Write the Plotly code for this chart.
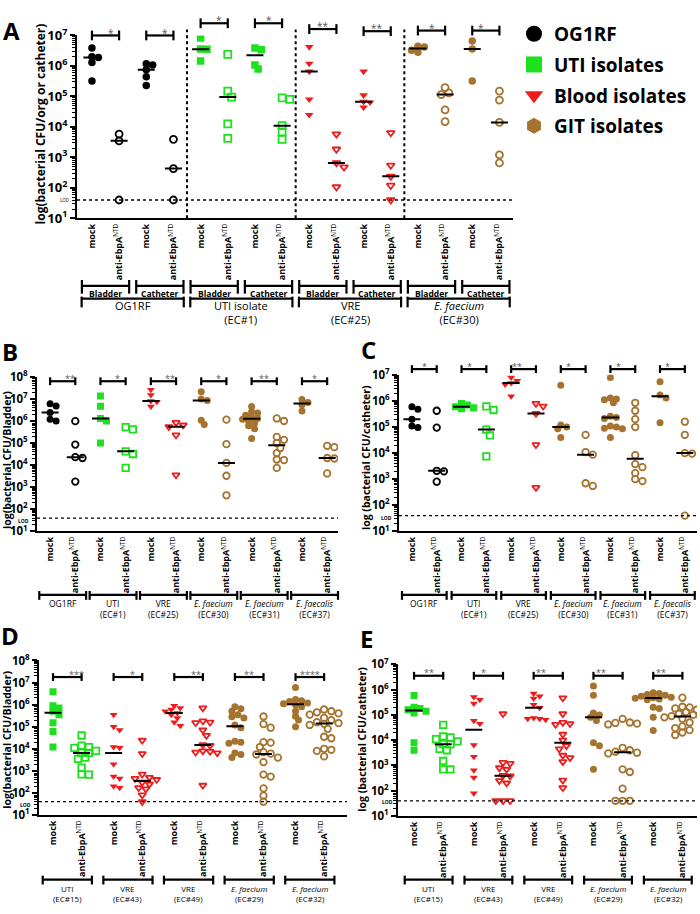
import numpy as np
import plotly.graph_objects as go

W, H = 700, 914
FONT = "Open Sans"
LOD = 40

# ------------------------------------------------------------------ DATA
# Panel A (CFU per organ or catheter); pairs = strain x site
A_groups = ["OG1RF", "UTI isolate<br>(EC#1)", "VRE<br>(EC#25)", "<i>E. faecium</i><br>(EC#30)"]
A_sites = ["Bladder", "Catheter", "Bladder", "Catheter", "Bladder", "Catheter", "Bladder", "Catheter"]
A_color = ["k", "k", "g", "g", "r", "r", "b", "b"]
A_mock = [
    [3.9e6, 2.0e6, 1.9e6, 1.3e6, 3.2e5],
    [1.17e6, 1.08e6, 7.5e5, 4.4e5, 2.3e5],
    [8.3e6, 3.6e6, 3.5e6, 1.45e6],
    [3.9e6, 3.4e6, 1.08e6, 7.9e5],
    [4.2e6, 1.2e6, 6.6e5, 8e4, 2.5e4],
    [6.6e5, 1.1e5, 6.7e4, 6.4e4, 4.4e4],
    [4.4e6, 4.2e6, 3.3e6, 2.8e6],
    [6.6e6, 3.6e6, 3.2e5],
]
A_anti = [
    [5.8e3, 3.5e3, 40],
    [3.9e3, 4.3e2, 40],
    [2.4e6, 1.5e5, 9.5e4, 1.26e4, 4.2e3],
    [9e4, 8e4, 1.1e4, 6.9e3, 3.9e3],
    [5.8e3, 1.85e3, 6.6e2, 4.8e2, 1.07e2],
    [6.4e3, 5.5e2, 2.4e2, 1.2e2, 40],
    [1.95e5, 1.3e5, 1.15e5, 3.6e4, 1.5e4],
    [1.5e5, 7.6e4, 1.4e4, 1.2e3, 6.6e2],
]
A_sig = ["*", "*", "*", "*", "**", "**", "*", "*"]
A_sig_level = [7.0, 7.0, 7.4, 7.4, 7.21, 7.14, 7.16, 7.16]

# Panel B (CFU per bladder)
B_groups = ["OG1RF", "UTI<br>(EC#1)", "VRE<br>(EC#25)", "<i>E. faecium</i><br>(EC#30)",
            "<i>E. faecium</i><br>(EC#31)", "<i>E. faecalis</i><br>(EC#37)"]
B_color = ["k", "g", "r", "b", "b", "b"]
B_mock = [
    [6.0e6, 4.8e6, 2.4e6, 1.2e6, 1.0e6],
    [1.35e7, 4.6e6, 1.3e6, 1.0e6, 1.0e5],
    [2.6e7, 1.5e7, 8e6, 7.5e6, 4.5e6],
    [2.1e7, 1.0e7, 8.5e6, 1.07e6, 7e5],
    [4.5e6, 2.6e6, 2.3e6, 1.8e6, 1.5e6, 1.3e6, 1.2e6, 1.0e6, 8e5, 6e5, 4.5e5, 1.6e5],
    [9.5e6, 6.8e6, 5.5e6, 2.8e6],
]
B_anti = [
    [9.8e5, 8.5e4, 2.3e4, 2.1e4, 1.8e3],
    [5.3e5, 4.2e5, 4.2e4, 3.2e4, 7.5e3],
    [8.5e5, 6.5e5, 5.5e5, 2.3e5, 3.6e3],
    [1.15e6, 8.9e4, 1.26e4, 3.3e3, 4.3e2],
    [1.3e6, 1.0e6, 1.9e5, 1.4e5, 1.0e5, 6e4, 3.5e4, 1.8e4, 1.7e4, 7.5e3],
    [7.5e4, 6.5e4, 2.1e4, 2.0e4, 4.2e3],
]
B_sig = ["**", "*", "**", "*", "**", "*"]

# Panel C (CFU per catheter)
C_groups = B_groups
C_color = B_color
C_mock = [
    [6e5, 4.8e5, 2.0e5, 1.1e5, 9.5e4],
    [8e5, 7e5, 6e5, 5.5e5, 5e5],
    [8e6, 6e6, 4.9e6, 4.3e6, 1.5e6],
    [4e6, 1.2e5, 1e5, 8.5e4, 4e4],
    [8e6, 1.3e6, 1.2e6, 1.1e6, 8.5e5, 2.6e5, 2.3e5, 2.1e5, 1.1e5, 1.0e5, 9e4, 8.5e4, 4e4],
    [5.5e6, 1.7e6, 1.3e6, 1.45e5],
]
C_anti = [
    [4.2e5, 9.5e4, 2.1e3, 2.0e3, 8e2],
    [6.2e5, 4.5e5, 8e4, 4.8e4, 7.5e3],
    [8e5, 6.3e5, 3.3e5, 2.1e4, 4.8e2],
    [5e4, 1.1e4, 8.7e3, 7e2, 5.5e2],
    [8.5e5, 4.2e5, 2e5, 1e5, 8.3e3, 3.8e3, 2.9e3, 1.7e3, 1.0e3, 8.5e2],
    [1.6e5, 5e4, 1e4, 9.5e3, 40],
]
C_sig = ["*", "*", "**", "*", "*", "*"]

# Panel D (CFU per bladder, more isolates)
D_groups = ["UTI<br>(EC#15)", "VRE<br>(EC#43)", "VRE<br>(EC#49)",
            "<i>E. faecium</i><br>(EC#29)", "<i>E. faecium</i><br>(EC#32)"]
D_color = ["g", "r", "r", "b", "b"]
D_mock = [
    [3.8e6, 9e5, 7e5, 5e5, 3.5e5, 1.5e5, 6e4, 1.2e4],
    [3.5e5, 1e5, 7e4, 1.2e4, 1.1e4, 2e3, 5.5e2, 4.5e2, 2e2, 1.7e2],
    [9e5, 7e5, 6e5, 5e5, 4.2e5, 3.5e5, 2.5e5, 1.6e5, 1.1e5],
    [8e5, 6.5e5, 5e5, 3.5e5, 2.8e5, 2.5e5, 1.2e5, 9e4, 2.2e4, 2e4, 1.8e4, 6.5e3, 5.5e3, 4e3],
    [6e6, 1.7e6, 1.5e6, 1.4e6, 1.2e6, 1.1e6, 1.0e6, 8e5, 5e5, 3e5, 2e5, 1e5],
]
D_anti = [
    [4e4, 1.4e4, 1.2e4, 1.1e4, 8e3, 6.5e3, 6.5e3, 4e3, 3.5e3, 1.4e3, 7e2, 6.8e2],
    [2.4e4, 6e3, 7e2, 5e2, 4.5e2, 4e2, 3e2, 2.5e2, 1.7e2, 1.5e2, 8e1, 4e1],
    [7e5, 1.8e5, 1.6e5, 1.5e5, 7e4, 4e4, 1.5e4, 1.4e4, 8e3, 7.5e3, 7e3, 6.5e3, 2.2e2],
    [2.9e5, 1.3e5, 9e4, 2.0e4, 1.9e4, 1.2e4, 7e3, 6e3, 5.5e3, 4e3, 2.5e3, 6.8e2, 5.5e2, 1.6e2, 7.5e1, 4e1],
    [6e5, 5e5, 4.5e5, 4e5, 3.5e5, 2.5e5, 2e5, 1.6e5, 1.45e5, 1.35e5, 1.2e5, 8e4, 3.5e4, 3e4, 1e4, 9e3, 8e3, 4.5e3],
]
D_sig = ["***", "*", "**", "**", "****"]

# Panel E (CFU per catheter, more isolates)
E_groups = D_groups
E_color = D_color
E_mock = [
    [5.9e5, 2e5, 1.8e5, 1.6e5, 1.4e5, 1.2e5, 8e3, 4e3],
    [5.1e5, 4e5, 2.8e5, 5.9e4, 4.5e4, 6.5e3, 2.2e3, 6.4e2, 3.3e2, 8e1],
    [7e5, 5.5e5, 4.5e5, 2.5e5, 1.9e5, 7.5e4, 7e4, 7e4, 6.5e4],
    [1.4e6, 6e5, 1.2e5, 1e5, 8e4, 6e4, 8e3, 6e3, 7e2],
    [7.5e5, 7e5, 6.5e5, 6e5, 5.5e5, 5e5, 4.8e5, 4.6e5, 4.3e5, 4e5, 2e5, 1.8e5, 8e4, 2.4e4],
]
E_anti = [
    [4e4, 1.4e4, 1.3e4, 1.1e4, 9e3, 7e3, 6.8e3, 4.5e3, 4e3, 1.5e3, 7e2, 7e2],
    [1.1e5, 1.3e3, 1.2e3, 8e2, 7e2, 4e2, 3.8e2, 2.5e2, 2e2, 4e1, 4e1, 4e1],
    [4.7e5, 1.1e5, 5e4, 4.5e4, 4.2e4, 1.7e4, 1e4, 6e3, 4.5e3, 2.5e3, 2e3, 1.4e3, 2.6e2, 1.3e2],
    [7e4, 5e4, 4.8e4, 4.5e4, 4.2e4, 5e3, 4e3, 3.5e3, 3.2e3, 3e3, 7e2, 5.5e2, 1.2e2, 4e1, 4e1, 4e1],
    [4.8e5, 2.1e5, 2e5, 1.8e5, 1.6e5, 1.3e5, 1.1e5, 1e5, 9e4, 8.5e4, 8e4, 7e4, 5e4, 3.5e4, 3e4, 2.5e4, 2e4, 1.6e4],
]
E_sig = ["**", "*", "**", "**", "**"]

TICK_MOCK = "mock"
TICK_ANTI = "anti-EbpA<sup><span style='font-weight:normal'>NTD</span></sup>"
LEGEND_NAMES = ["OG1RF", "UTI isolates", "Blood isolates", "GIT isolates"]

# ------------------------------------------------------------------ STYLE
COL = {"k": "#000000", "g": "#1fe01f", "r": "#ee1c1c", "b": "#a5732f"}
SYM = {"k": "circle", "g": "square", "r": "triangle-down", "b": "circle"}

fig = go.Figure()
shapes, annos = [], []
layout_axes = {}


def px2py(px):
    return 1 - px / H


def px2px(px):
    return px / W


def swarm(vals, ppd, ppu, d):
    vals = np.asarray(vals, float)
    order = np.argsort(-vals, kind="stable")
    placed = []
    offs = np.zeros(len(vals))
    cands = [0.0] + [s * j * d * 0.4 for j in range(1, 40) for s in (1, -1)]
    for i in order:
        y = np.log10(vals[i]) * ppd
        for c in cands:
            if all((c - a) ** 2 + (y - b) ** 2 >= (0.66 * d) ** 2 for a, b in placed):
                break
        placed.append((c, y))
        offs[i] = c / ppu
    return offs


def panel(k, box, xr, yr, pos_m, pos_a, mock, anti, colors, sig, sig_lv,
          msize=7, cap=4, star_size=9, ytick_size=12, xtick_size=9):
    left, right, top, bottom = box
    xs = "" if k == 1 else str(k)
    ppu = (right - left) / (xr[1] - xr[0])
    ppd = (bottom - top) / (yr[1] - yr[0])

    def X(p):
        return px2px(left + (p - xr[0]) * ppu)

    def Y(logv):
        return px2py(bottom - (logv - yr[0]) * ppd)

    layout_axes["xaxis" + xs] = dict(
        domain=[left / W, right / W], range=xr, anchor="y" + xs,
        tickmode="array", tickvals=sum([[m, a] for m, a in zip(pos_m, pos_a)], []),
        ticktext=[TICK_MOCK, TICK_ANTI] * len(pos_m), tickangle=-90,
        tickfont=dict(family=FONT, size=xtick_size, color="black", weight="bold"),
        showline=True, linewidth=2, linecolor="black", ticks="", showgrid=False, zeroline=False)
    layout_axes["yaxis" + xs] = dict(
        domain=[1 - bottom / H, 1 - top / H], type="log", range=yr, anchor="x" + xs,
        tickmode="array", tickvals=[10 ** i for i in range(yr[0], yr[1] + 1)],
        ticktext=[f"10<sup>{i}</sup>" for i in range(yr[0], yr[1] + 1)],
        tickfont=dict(family=FONT, size=ytick_size, color="black", weight="bold"),
        ticks="outside", ticklen=5, tickwidth=2, tickcolor="black",
        minor=dict(ticks="outside", ticklen=3, tickwidth=1, tickcolor="black", dtick="D1", showgrid=False),
        showline=True, linewidth=2, linecolor="black", showgrid=False, zeroline=False)

    for j in range(len(mock)):
        c = COL[colors[j]]
        sym = SYM[colors[j]]
        for pos, vals, opn in ((pos_m[j], mock[j], False), (pos_a[j], anti[j], True)):
            d = msize + (1.5 if opn else 0)
            offs = swarm(vals, ppd, ppu, d + 0.5)
            fig.add_trace(go.Scatter(
                x=pos + offs, y=vals, mode="markers", xaxis="x" + xs, yaxis="y" + xs,
                showlegend=False, hoverinfo="y",
                marker=dict(symbol=sym + ("-open" if opn else ""), size=msize if not opn else msize - 0.5,
                            color=c, line=dict(width=1.8 if opn else 0, color=c))))
            med = float(np.median(vals))
            hw = 8.5 / ppu
            fig.add_trace(go.Scatter(
                x=[pos - hw, pos + hw], y=[med, med], mode="lines", xaxis="x" + xs, yaxis="y" + xs,
                showlegend=False, hoverinfo="skip", line=dict(color="black", width=2)))
        # significance bar
        yb = Y(sig_lv[j])
        xa, xb = X(pos_m[j]), X(pos_a[j])
        capf = cap / H
        shapes.append(dict(type="line", xref="paper", yref="paper", x0=xa, x1=xb, y0=yb, y1=yb,
                           line=dict(color="black", width=2.2)))
        for xx in (xa, xb):
            shapes.append(dict(type="line", xref="paper", yref="paper", x0=xx, x1=xx,
                               y0=yb - capf, y1=yb + capf, line=dict(color="black", width=2.2)))
        annos.append(dict(xref="paper", yref="paper", x=(xa + xb) / 2, y=yb + 3 / H,
                          text=sig[j], showarrow=False, yanchor="middle",
                          font=dict(family=FONT, size=star_size, color="#555555")))
    # LOD line
    ly = Y(np.log10(LOD))
    shapes.append(dict(type="line", xref="paper", yref="paper", x0=left / W, x1=right / W,
                       y0=ly, y1=ly, line=dict(color="black", width=1.3, dash="dot")))
    return X, Y


def bracket(X, p0, p1, ypx, cap_up, cap_dn, lw=2.2):
    y = px2py(ypx)
    shapes.append(dict(type="line", xref="paper", yref="paper", x0=X(p0), x1=X(p1), y0=y, y1=y,
                       line=dict(color="black", width=lw)))
    for p in (p0, p1):
        shapes.append(dict(type="line", xref="paper", yref="paper", x0=X(p), x1=X(p),
                           y0=px2py(ypx - cap_up), y1=px2py(ypx + cap_dn),
                           line=dict(color="black", width=lw)))


def text(x_paper, ypx, s, size, anchor="middle", xanchor="center", color="black", angle=0):
    annos.append(dict(xref="paper", yref="paper", x=x_paper, y=px2py(ypx), text=s,
                      showarrow=False, xanchor=xanchor, yanchor=anchor, textangle=angle,
                      borderpad=0, font=dict(family=FONT, size=size, color=color)))


# ------------------------------------------------------------------ PANEL A
nA = len(A_mock)
A_pm = [2 * j for j in range(nA)]
A_pa = [2 * j + 1 for j in range(nA)]
XA, YA = panel(1, (77, 513, 25, 212), [-0.55, 15.5], [1, 7], A_pm, A_pa, A_mock, A_anti,
               A_color, A_sig, A_sig_level, msize=7.5, cap=5, star_size=10, ytick_size=13)
for s in (3.5, 7.5, 11.5):
    shapes.append(dict(type="line", xref="paper", yref="paper", x0=XA(s), x1=XA(s),
                       y0=px2py(212), y1=px2py(19), line=dict(color="black", width=2, dash="dot")))
for j in range(nA):
    c = (A_pm[j] + A_pa[j]) / 2
    bracket(XA, c - 0.87, c + 0.87, 281, 6, 8)
    text(XA(c), 282, "<b>" + A_sites[j] + "</b>", 8.5, anchor="top")
for g in range(len(A_groups)):
    c = (A_pm[2 * g] + A_pa[2 * g + 1]) / 2
    bracket(XA, c - 1.88, c + 1.88, 294, 2, 9)
    text(XA(c), 292, A_groups[g], 11, anchor="top")
text(px2px(70), 193, "LOD", 4.5, xanchor="right")
text(px2px(40), 116, "<b>log(bacterial CFU/org or catheter)</b>", 12, angle=-90)
text(px2px(2), 2, "<b>A</b>", 24, anchor="top", xanchor="left")

# ------------------------------------------------------------------ PANEL B
nB = len(B_mock)
B_pm = [2 * j for j in range(nB)]
B_pa = [2 * j + 1 for j in range(nB)]
XB, YB = panel(2, (37, 338, 374, 532), [-0.52, 11.43], [1, 8], B_pm, B_pa, B_mock, B_anti,
               B_color, B_sig, [7.8] * nB, msize=7, cap=4, star_size=9, ytick_size=11.5)
for g in range(nB):
    c = (B_pm[g] + B_pa[g]) / 2
    bracket(XB, c - 0.93, c + 0.93, 597, 4, 5)
    text(XB(c), 599, B_groups[g], 8.5, anchor="top")
text(px2px(30), 521, "<b>LOD</b>", 5, xanchor="right")
text(px2px(7), 459, "<b>log(bacterial CFU/Bladder)</b>", 10.5, angle=-90)
text(px2px(1), 366, "<b>B</b>", 24, anchor="bottom", xanchor="left")

# ------------------------------------------------------------------ PANEL C
XC, YC = panel(3, (399, 697, 372, 532), [-0.52, 11.49], [1, 7], B_pm, B_pa, C_mock, C_anti,
               C_color, C_sig, [7.22] * nB, msize=7, cap=4, star_size=9, ytick_size=11.5)
for g in range(nB):
    c = (B_pm[g] + B_pa[g]) / 2
    bracket(XC, c - 0.9, c + 0.9, 597, 4, 5)
    text(XC(c), 599, C_groups[g], 8.5, anchor="top")
text(px2px(393), 518, "<b>LOD</b>", 5, xanchor="right")
text(px2px(366), 457, "<b>log (bacterial CFU/catheter)</b>", 10.5, angle=-90)
text(px2px(360), 364, "<b>C</b>", 24, anchor="bottom", xanchor="left")

# ------------------------------------------------------------------ PANEL D
nD = len(D_mock)
D_pm = [2.12 * g for g in range(nD)]
D_pa = [2.12 * g + 1 for g in range(nD)]
XD, YD = panel(4, (39, 347, 664, 822), [-0.49, 10.28], [1, 8], D_pm, D_pa, D_mock, D_anti,
               D_color, D_sig, [7.25] * nD, msize=7, cap=4, star_size=9, ytick_size=11.5)
for g in range(nD):
    c = (D_pm[g] + D_pa[g]) / 2
    bracket(XD, c - 0.86, c + 0.86, 888, 4, 5)
    text(XD(c), 890, D_groups[g], 8, anchor="top")
text(px2px(32), 811.5, "<b>LOD</b>", 5, xanchor="right")
text(px2px(7), 745, "<b>log(bacterial CFU/Bladder)</b>", 10.5, angle=-90)
text(px2px(0), 656, "<b>D</b>", 24, anchor="bottom", xanchor="left")

# ------------------------------------------------------------------ PANEL E
nE = len(E_mock)
E_pm = [2.05 * g for g in range(nE)]
E_pa = [2.05 * g + 1 for g in range(nE)]
XE, YE = panel(5, (398, 697, 668, 823), [-0.55, 9.7], [1, 7], E_pm, E_pa, E_mock, E_anti,
               E_color, E_sig, [6.55] * nE, msize=7, cap=4, star_size=9, ytick_size=11.5)
for g in range(nE):
    c = (E_pm[g] + E_pa[g]) / 2
    bracket(XE, c - 0.82, c + 0.82, 888, 4, 5)
    text(XE(c), 890, E_groups[g], 8, anchor="top")
text(px2px(394), 809, "<b>LOD</b>", 5, xanchor="right")
text(px2px(362), 745, "<b>log (bacterial CFU/catheter)</b>", 10.5, angle=-90)
text(px2px(359), 659, "<b>E</b>", 24, anchor="bottom", xanchor="left")

# ------------------------------------------------------------------ LEGEND
for name, c, sym in zip(LEGEND_NAMES, ["k", "g", "r", "b"],
                        ["circle", "square", "triangle-down", "hexagon"]):
    fig.add_trace(go.Scatter(x=[None], y=[None], mode="markers", name=name, legendgroup=name,
                             marker=dict(symbol=sym, size=16, color=COL[c])))

fig.update_layout(
    width=W, height=H, margin=dict(l=0, r=0, t=0, b=0),
    paper_bgcolor="white", plot_bgcolor="white",
    font=dict(family=FONT, color="black"),
    showlegend=True,
    legend=dict(x=514 / W, y=1 - 4 / H, xanchor="left", yanchor="top",
                font=dict(family=FONT, size=19, color="black", weight="bold"),
                itemsizing="trace", traceorder="grouped", tracegroupgap=3,
                bgcolor="rgba(0,0,0,0)"),
    shapes=shapes, annotations=annos, **layout_axes)

fig.write_html("out.html", config={"displayModeBar": False},
               post_script="document.body.style.margin='0';document.body.style.overflow='hidden';")
